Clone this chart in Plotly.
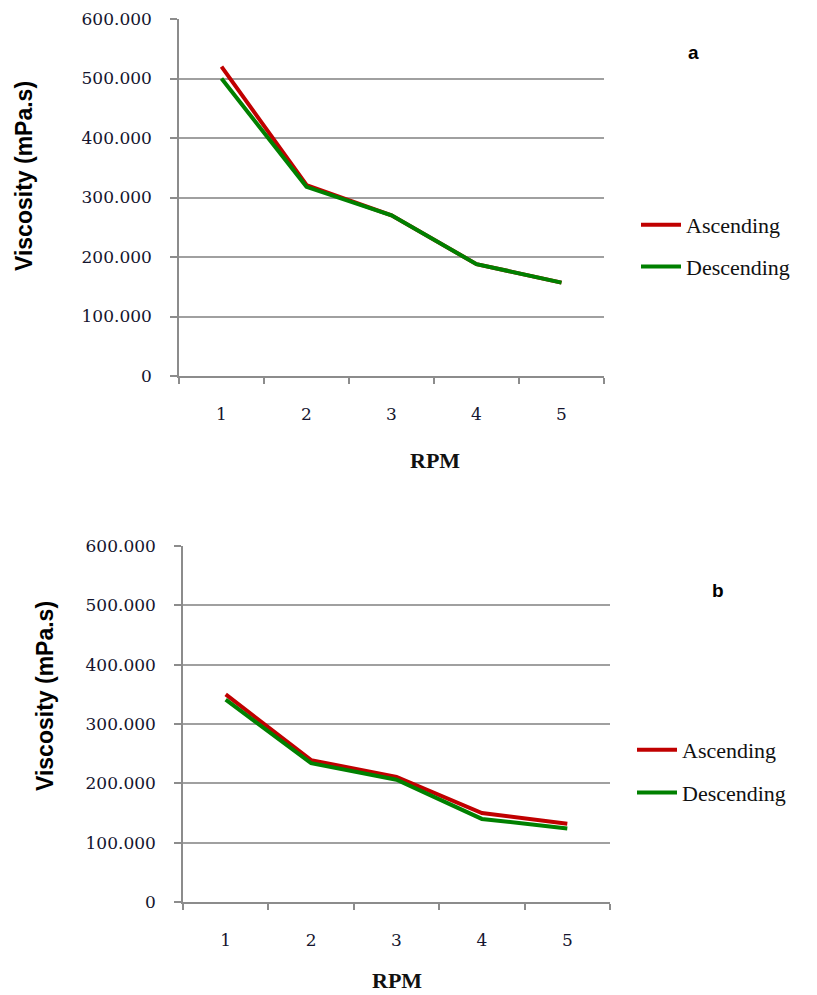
import plotly.graph_objects as go

rpm = ["1", "2", "3", "4", "5"]
asc_a = [520, 321, 270, 188, 157]
desc_a = [500, 318, 270, 188, 157]
asc_b = [350, 239, 211, 150, 132]
desc_b = [341, 234, 206, 140, 124]
y_ticks = [0, 100, 200, 300, 400, 500, 600]
y_labels = ["0", "100.000", "200.000", "300.000", "400.000", "500.000", "600.000"]

RED = "#C00000"
GREEN = "#008000"
GRID = "#A0A0A0"
AX = "#8C8C8C"
W, H = 817, 995

fig = go.Figure()
fig.add_trace(go.Scatter(x=rpm, y=asc_a, mode="lines", name="Ascending",
                         line=dict(color=RED, width=4), xaxis="x", yaxis="y",
                         legend="legend", legendgroup="a1"))
fig.add_trace(go.Scatter(x=rpm, y=desc_a, mode="lines", name="Descending",
                         line=dict(color=GREEN, width=4), xaxis="x", yaxis="y",
                         legend="legend", legendgroup="a2"))
fig.add_trace(go.Scatter(x=rpm, y=asc_b, mode="lines", name="Ascending",
                         line=dict(color=RED, width=4), xaxis="x2", yaxis="y2",
                         legend="legend2", legendgroup="b1"))
fig.add_trace(go.Scatter(x=rpm, y=desc_b, mode="lines", name="Descending",
                         line=dict(color=GREEN, width=4), xaxis="x2", yaxis="y2",
                         legend="legend2", legendgroup="b2"))

ytickfont = dict(family="DejaVu Serif", size=17, color="#15152e")
xtickfont = dict(family="DejaVu Serif", size=17, color="#15152e")

def xax(domain, anchor):
    return dict(domain=domain, anchor=anchor, type="category", tickson="boundaries",
                ticks="outside", ticklen=6, tickcolor=AX, tickwidth=1.5,
                showline=True, linecolor=AX, linewidth=1.5, showgrid=False,
                range=[-0.5, 4.5], tickfont=xtickfont, ticklabelstandoff=22,
                zeroline=False, automargin=False)

def yax(domain, anchor):
    return dict(domain=domain, anchor=anchor, range=[0, 600], tickvals=y_ticks,
                ticktext=y_labels, ticks="outside", ticklen=7, tickcolor=AX,
                tickwidth=1.5, showline=True, linecolor=AX, linewidth=1.5,
                showgrid=True, gridcolor=GRID, gridwidth=1.5, zeroline=False,
                tickfont=ytickfont, ticklabelstandoff=15, automargin=False)

def px(x):
    return x / W

def py(y):
    return 1 - y / H

legfont = dict(family="Liberation Serif", size=22, color="#111111")

fig.update_layout(
    width=W, height=H,
    margin=dict(l=0, r=0, t=0, b=0, autoexpand=False),
    paper_bgcolor="white", plot_bgcolor="white",
    xaxis=xax([px(179), px(604)], "y"),
    yaxis=yax([py(376), py(19)], "x"),
    xaxis2=xax([px(183), px(610)], "y2"),
    yaxis2=yax([py(902), py(546)], "x2"),
    legend=dict(x=px(636), y=py(204), xanchor="left", yanchor="top",
                font=legfont, tracegroupgap=10, traceorder="grouped",
                bgcolor="rgba(0,0,0,0)", itemwidth=40),
    legend2=dict(x=px(632), y=py(729), xanchor="left", yanchor="top",
                 font=legfont, tracegroupgap=11, traceorder="grouped",
                 bgcolor="rgba(0,0,0,0)", itemwidth=40),
    showlegend=True,
)

ytitle_font = dict(family="Liberation Sans", size=23, color="black")
rpm_font = dict(family="Liberation Serif", size=22, color="#111111")
annots = [
    dict(text="<b>Viscosity (mPa.s)</b>", x=px(24), y=py(176), textangle=-90,
         font=ytitle_font),
    dict(text="<b>Viscosity (mPa.s)</b>", x=px(45), y=py(696), textangle=-90,
         font=ytitle_font),
    dict(text="<b>RPM</b>", x=px(435), y=py(460), font=rpm_font),
    dict(text="<b>RPM</b>", x=px(397), y=py(980), font=rpm_font),
    dict(text="<b>a</b>", x=px(693), y=py(53),
         font=dict(family="Liberation Sans", size=19, color="black")),
    dict(text="<b>b</b>", x=px(718), y=py(590),
         font=dict(family="Liberation Sans", size=19, color="black")),
]
for a in annots:
    fig.add_annotation(xref="paper", yref="paper", showarrow=False,
                       xanchor="center", yanchor="middle", **a)

fig.write_html("out.html")
